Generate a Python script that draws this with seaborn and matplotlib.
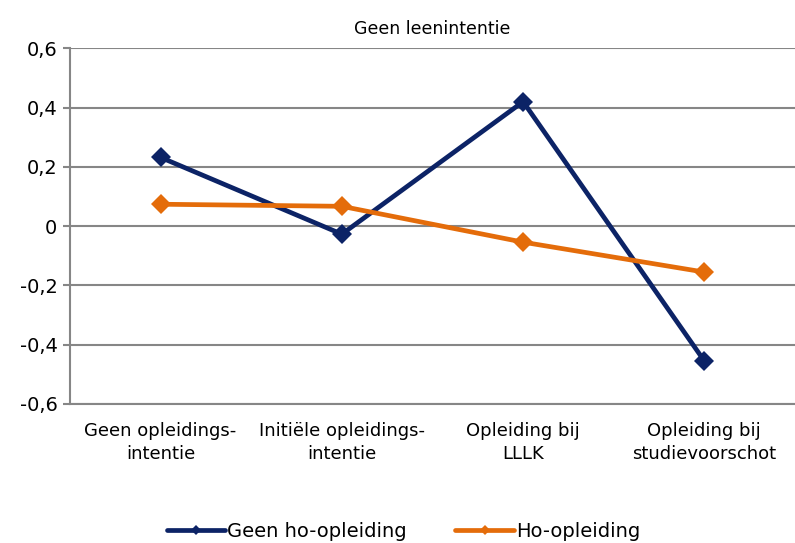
import pandas as pd
import seaborn as sns
import matplotlib.pyplot as plt

categories = ["Geen opleidings-\nintentie", "Initiële opleidings-\nintentie",
              "Opleiding bij\nLLLK", "Opleiding bij\nstudievoorschot"]
geen_ho = [0.232, -0.027, 0.42, -0.455]
ho = [0.074, 0.067, -0.054, -0.155]
series = ["Geen ho-opleiding", "Ho-opleiding"]
yticks = [-0.6, -0.4, -0.2, 0, 0.2, 0.4, 0.6]
ytick_labels = ["-0,6", "-0,4", "-0,2", "0", "0,2", "0,4", "0,6"]

df = pd.DataFrame({
    "pos": list(range(len(categories))) * 2,
    "waarde": geen_ho + ho,
    "groep": [series[0]] * len(geen_ho) + [series[1]] * len(ho),
})

sns.set_style("white")
plt.rcParams["font.family"] = ["DejaVu Sans"]
plt.rcParams["text.color"] = "black"
plt.rcParams["xtick.color"] = "black"
plt.rcParams["ytick.color"] = "black"

fig, ax = plt.subplots(figsize=(7.95, 5.43), dpi=100)
fig.subplots_adjust(left=0.088, right=1.0, top=0.911, bottom=0.256)

sns.lineplot(
    data=df, x="pos", y="waarde", hue="groep", style="groep",
    palette={series[0]: "#0c2366", series[1]: "#e46c0a"},
    markers={series[0]: "D", series[1]: "D"}, dashes=False,
    linewidth=3.4, markersize=10, markeredgewidth=0, sort=False, ax=ax,
)

ax.set_xlim(-0.5, 3.5)
ax.set_ylim(-0.6, 0.6)
ax.set_yticks(yticks)
ax.set_yticklabels(ytick_labels, fontsize=14)
ax.set_xticks(range(len(categories)))
ax.set_xticklabels(categories, fontsize=13, linespacing=1.35)
ax.tick_params(axis="x", length=0, pad=13)
ax.tick_params(axis="y", length=5, width=1.5, color="#868686", pad=4, left=True)
ax.set_xlabel("")
ax.set_ylabel("")
ax.grid(axis="y", color="#868686", linewidth=1.5)
ax.set_axisbelow(True)
for side in ["top", "right"]:
    ax.spines[side].set_visible(False)
for side in ["left", "bottom"]:
    ax.spines[side].set_color("#868686")
    ax.spines[side].set_linewidth(1.5)

ax.set_title("Geen leenintentie", fontsize=12.5, pad=10)

handles, labels = ax.get_legend_handles_labels()
ax.legend(handles, labels, loc="lower center", bbox_to_anchor=(0.46, -0.435),
          ncol=2, frameon=False, fontsize=14, handlelength=3.0,
          handletextpad=0.1, columnspacing=2.5, markerscale=0.5)

plt.savefig("out.png", dpi=100)
